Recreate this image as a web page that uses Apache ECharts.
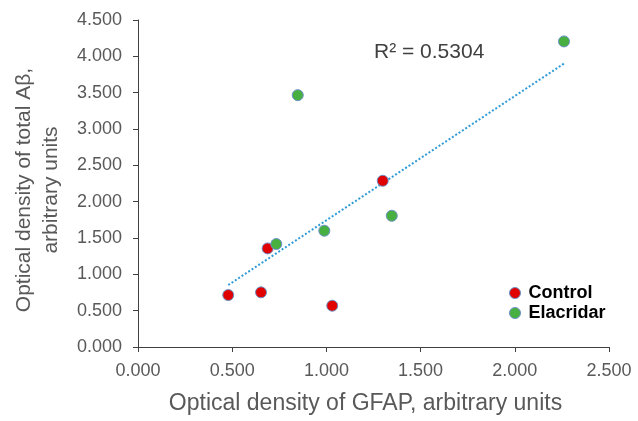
<!DOCTYPE html>
<html>
<head>
<meta charset="utf-8">
<script src="https://cdn.jsdelivr.net/npm/echarts@6/dist/echarts.min.js"></script>
<style>
html, body { margin: 0; padding: 0; background: #fff; }
#main { width: 638px; height: 421px; }
</style>
</head>
<body>
<div id="main"></div>
<script>
var myChart = echarts.init(document.getElementById('main'));

// values
var controlData = [[0.479, 0.715], [0.653, 0.752], [0.688, 1.357], [1.031, 0.568], [1.299, 2.288]];
var elacridarData = [[0.734, 1.417], [0.848, 3.466], [0.989, 1.600], [1.347, 1.806], [2.261, 4.205]];
var trendData = [[0.479, 0.853], [2.261, 3.900]];
var rSquared = 'R² = 0.5304';
var xTitle = 'Optical density of GFAP, arbitrary units';
var yTitle = 'Optical density of total Aβ,\narbitrary units';

var axisColor = '#404040';
var labelColor = '#595959';
var font = 'Liberation Sans';

option = {
    animation: false,
    grid: {
        left: 138,
        right: 29,
        top: 20,
        bottom: 74,
        containLabel: false,
        outerBoundsMode: 'none'
    },
    legend: {
        orient: 'vertical',
        left: 504,
        top: 279,
        itemWidth: 11,
        itemHeight: 11,
        itemGap: 2,
        itemStyle: { borderWidth: 1 },
        textStyle: {
            fontFamily: font,
            fontSize: 18,
            fontWeight: 'bold',
            color: '#000',
            padding: [0, 0, 0, 3]
        },
        data: ['Control', 'Elacridar']
    },
    graphic: [{
        type: 'text',
        left: 374,
        top: 42,
        style: {
            text: rSquared,
            fontFamily: font,
            fontSize: 21,
            fill: axisColor
        }
    }, {
        type: 'text',
        x: 38,
        y: 190,
        rotation: Math.PI / 2,
        style: {
            text: yTitle,
            fontFamily: font,
            fontSize: 21,
            lineHeight: 27,
            fill: labelColor,
            align: 'center',
            verticalAlign: 'middle'
        }
    }],
    xAxis: {
        type: 'value',
        min: 0,
        max: 2.5,
        interval: 0.5,
        name: xTitle,
        nameLocation: 'middle',
        nameGap: 45,
        nameTextStyle: {
            fontFamily: font,
            fontSize: 23,
            color: labelColor,
            padding: [0, 16, 0, 0]
        },
        splitLine: { show: false },
        axisLine: { lineStyle: { color: axisColor, width: 1 } },
        axisTick: { show: true, length: 5, lineStyle: { color: axisColor } },
        axisLabel: {
            margin: 15,
            fontFamily: font,
            fontSize: 18,
            color: labelColor,
            formatter: function (v) { return v.toFixed(3); }
        }
    },
    yAxis: {
        type: 'value',
        min: 0,
        max: 4.5,
        interval: 0.5,
        splitLine: { show: false },
        axisLine: { show: true, lineStyle: { color: axisColor, width: 1 } },
        axisTick: { show: true, length: 5, lineStyle: { color: axisColor } },
        axisLabel: {
            margin: 16,
            fontFamily: font,
            fontSize: 18,
            color: labelColor,
            formatter: function (v) { return v.toFixed(3); }
        }
    },
    series: [{
        name: 'Trend',
        type: 'line',
        data: trendData,
        symbol: 'none',
        silent: true,
        lineStyle: { color: '#2e9bd6', width: 2, type: [2, 2] },
        z: 1
    }, {
        name: 'Control',
        type: 'scatter',
        data: controlData,
        symbolSize: 11,
        itemStyle: { color: '#e00000', borderColor: '#6b8fc6', borderWidth: 1, opacity: 1 },
        z: 3
    }, {
        name: 'Elacridar',
        type: 'scatter',
        data: elacridarData,
        symbolSize: 11,
        itemStyle: { color: '#48b040', borderColor: '#6b8fc6', borderWidth: 1, opacity: 1 },
        z: 3
    }]
};

myChart.setOption(option);
</script>
</body>
</html>
